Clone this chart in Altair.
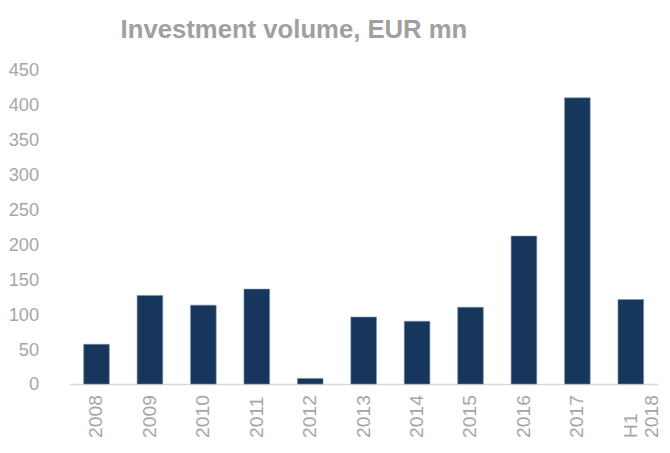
import altair as alt
import pandas as pd

periods = ["2008", "2009", "2010", "2011", "2012", "2013", "2014", "2015", "2016", "2017", "H1 2018"]
volumes = [57, 127, 113, 136, 8, 96, 90, 110, 212, 410, 121]

df = pd.DataFrame({"period": periods, "volume": volumes})

GRAY = "#A6A6A6"
FONT = "Liberation Sans, Arial, sans-serif"

chart = (
    alt.Chart(df)
    .mark_bar(color="#16365C", stroke="#7D92AE", strokeWidth=0.6)
    .encode(
        x=alt.X(
            "period:N",
            sort=periods,
            title=None,
            scale=alt.Scale(paddingInner=0.52, paddingOuter=0.27),
            axis=alt.Axis(
                labelAngle=-90,
                labelAlign="left",
                labelBaseline="middle",
                labelPadding=54,
                labelFont=FONT,
                labelFontSize=19.5,
                labelColor=GRAY,
                labelLineHeight=22,
                labelExpr="datum.value == 'H1 2018' ? ['H1', '2018'] : datum.value",
                ticks=False,
                domainColor="#D9D9D9",
                domainWidth=1.5,
                labelOverlap=False,
            ),
        ),
        y=alt.Y(
            "volume:Q",
            title=None,
            scale=alt.Scale(domain=[0, 450], nice=False),
            axis=alt.Axis(
                values=list(range(0, 451, 50)),
                grid=False,
                domain=False,
                ticks=False,
                labelPadding=31,
                labelFont=FONT,
                labelFontSize=18.5,
                labelColor=GRAY,
            ),
        ),
    )
    .properties(
        width=596,
        height=318,
        autosize=alt.AutoSizeParams(type="none"),
        padding={"left": 62, "top": 60, "right": 4, "bottom": 55},
        title=alt.TitleParams(
            "Investment volume, EUR mn",
            font=FONT,
            fontSize=26,
            fontWeight="bold",
            color="#A0A0A0",
            anchor="start",
            frame="group",
            dx=52,
            offset=18,
        ),
    )
    .configure_view(stroke=None)
)

chart.save("out.html", embed_options={"renderer": "svg", "actions": False})
